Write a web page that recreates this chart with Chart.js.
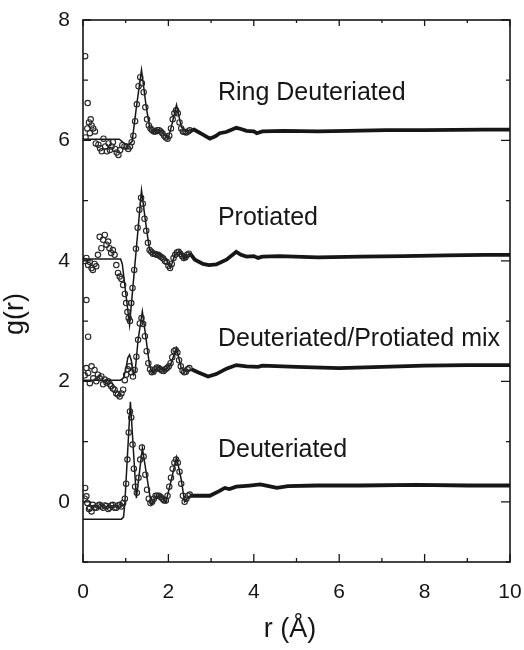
<!DOCTYPE html>
<html><head><meta charset="utf-8">
<script src="https://cdn.jsdelivr.net/npm/chart.js@4/dist/chart.umd.min.js"></script>
<style>html,body{margin:0;padding:0;background:#fff}</style>
</head><body>
<canvas id="c" width="524" height="650" style="display:block"></canvas>
<script>
// ---- tick labels ----
const xTickLabels = [0, 2, 4, 6, 8, 10];
const yTickLabels = [0, 2, 4, 6, 8];
const seriesNames = ['Ring Deuteriated', 'Protiated', 'Deuteriated/Protiated mix', 'Deuteriated'];

// ---- Ring Deuteriated: fit line ----
const ringFitR = [0, 0.85, 0.95, 1.05, 1.15, 1.25, 1.37, 1.48, 1.56, 1.64, 1.75, 1.83, 1.92, 1.99, 2.07, 2.19, 2.3, 2.4, 2.5, 2.6, 2.7, 2.8, 2.97, 3.1, 3.2, 3.35, 3.45, 3.59, 3.7, 3.83, 4.0, 4.07, 4.2, 4.7, 5.5, 6.2, 7.1, 8.0, 9.4, 10];
const ringFitG = [6.02, 6.02, 5.96, 5.92, 5.98, 6.55, 7.17, 6.56, 6.22, 6.15, 6.17, 6.16, 6.08, 6.03, 6.23, 6.59, 6.23, 6.15, 6.16, 6.18, 6.14, 6.1, 6.03, 6.07, 6.12, 6.14, 6.17, 6.21, 6.19, 6.16, 6.15, 6.12, 6.15, 6.16, 6.15, 6.16, 6.17, 6.17, 6.18, 6.18];
// ---- Ring Deuteriated: measured points ----
const ringPtR = [0.05, 0.11, 0.1, 0.14, 0.18, 0.2, 0.24, 0.16, 0.06, 0.28, 0.3, 0.36, 0.4, 0.44, 0.48, 0.52, 0.56, 0.6, 0.63, 0.67, 0.7, 0.75, 0.79, 0.83, 0.87, 0.92, 0.97, 1.02, 1.06, 1.1, 1.14, 1.18, 1.22, 1.26, 1.3, 1.34, 1.38, 1.42, 1.46, 1.5, 1.54, 1.58, 1.62, 1.66, 1.7, 1.74, 1.78, 1.82, 1.86, 1.9, 1.94, 1.98, 2.02, 2.06, 2.1, 2.14, 2.18, 2.22, 2.26, 2.3, 2.34, 2.38, 2.42, 2.46, 2.5];
const ringPtG = [7.4, 6.62, 6.2, 6.3, 6.35, 6.25, 6.2, 6.12, 6.05, 6.15, 5.95, 5.93, 5.87, 5.82, 6.03, 5.9, 5.82, 5.95, 5.84, 5.9, 5.97, 5.86, 5.8, 5.76, 5.84, 5.92, 5.9, 5.9, 5.86, 5.9, 5.97, 6.08, 6.32, 6.6, 6.9, 7.05, 6.95, 6.8, 6.55, 6.35, 6.25, 6.2, 6.17, 6.15, 6.15, 6.17, 6.17, 6.15, 6.12, 6.08, 6.05, 6.03, 6.08, 6.2, 6.35, 6.45, 6.5, 6.45, 6.3, 6.2, 6.15, 6.14, 6.13, 6.15, 6.17];

// ---- Protiated: fit line ----
const protFitR = [0, 0.88, 0.92, 1.09, 1.37, 1.48, 1.56, 1.64, 1.8, 1.95, 2.05, 2.15, 2.26, 2.38, 2.5, 2.62, 2.81, 2.95, 3.12, 3.36, 3.59, 3.7, 3.83, 4.0, 4.1, 4.2, 4.6, 5.5, 6.5, 7.5, 8.5, 9.4, 10];
const protFitG = [4.03, 4.03, 3.95, 2.94, 5.17, 4.57, 4.18, 4.13, 4.1, 4.02, 3.88, 4.1, 4.16, 4.04, 4.13, 4.02, 3.95, 3.93, 3.94, 4.02, 4.15, 4.1, 4.07, 4.08, 4.05, 4.07, 4.08, 4.06, 4.07, 4.08, 4.09, 4.1, 4.1];
// ---- Protiated: measured points ----
const protPtR = [0.08, 0.04, 0.08, 0.12, 0.16, 0.2, 0.23, 0.27, 0.31, 0.35, 0.39, 0.43, 0.47, 0.51, 0.55, 0.59, 0.62, 0.66, 0.7, 0.74, 0.78, 0.82, 0.86, 0.9, 0.94, 0.98, 1.01, 1.04, 1.07, 1.1, 1.13, 1.16, 1.2, 1.24, 1.28, 1.32, 1.36, 1.4, 1.44, 1.48, 1.52, 1.56, 1.6, 1.64, 1.68, 1.72, 1.76, 1.8, 1.84, 1.88, 1.92, 1.96, 2.0, 2.04, 2.08, 2.12, 2.16, 2.2, 2.24, 2.28, 2.32, 2.36, 2.4, 2.44, 2.48];
const protPtG = [3.35, 4.0, 4.05, 3.93, 3.98, 3.88, 3.85, 3.95, 3.91, 4.1, 4.4, 4.21, 4.35, 4.43, 4.27, 4.32, 4.21, 4.13, 4.18, 4.1, 3.93, 3.8, 3.74, 3.7, 3.6, 3.45, 3.3, 3.15, 3.05, 3.0, 3.3, 3.55, 3.85, 4.2, 4.55, 4.85, 5.05, 4.95, 4.7, 4.5, 4.3, 4.18, 4.15, 4.12, 4.12, 4.1, 4.1, 4.08, 4.06, 4.04, 4.0, 3.98, 3.92, 3.88, 3.95, 4.05, 4.1, 4.14, 4.15, 4.12, 4.08, 4.05, 4.06, 4.1, 4.12];

// ---- Deuteriated/Protiated mix: fit line ----
const mixFitR = [0, 0.88, 0.95, 1.0, 1.05, 1.09, 1.13, 1.19, 1.22, 1.29, 1.39, 1.48, 1.56, 1.64, 1.76, 1.91, 2.05, 2.19, 2.3, 2.42, 2.54, 2.69, 2.93, 3.12, 3.36, 3.59, 3.83, 4.1, 4.2, 5.0, 6.0, 7.0, 8.0, 9.0, 10];
const mixFitG = [2.02, 2.02, 2.06, 2.19, 2.39, 2.44, 2.35, 2.11, 2.15, 2.69, 3.16, 2.69, 2.25, 2.14, 2.24, 2.18, 2.28, 2.55, 2.22, 2.16, 2.2, 2.15, 2.08, 2.12, 2.21, 2.27, 2.25, 2.24, 2.26, 2.24, 2.22, 2.24, 2.26, 2.27, 2.27];
// ---- Deuteriated/Protiated mix: measured points ----
const mixPtR = [0.12, 0.04, 0.08, 0.12, 0.16, 0.2, 0.24, 0.27, 0.31, 0.35, 0.39, 0.43, 0.47, 0.51, 0.55, 0.59, 0.63, 0.66, 0.7, 0.74, 0.78, 0.82, 0.86, 0.9, 0.94, 0.98, 1.01, 1.05, 1.09, 1.13, 1.17, 1.21, 1.25, 1.29, 1.33, 1.37, 1.41, 1.45, 1.49, 1.53, 1.57, 1.61, 1.65, 1.69, 1.73, 1.77, 1.81, 1.85, 1.89, 1.93, 1.97, 2.01, 2.05, 2.09, 2.13, 2.17, 2.21, 2.25, 2.29, 2.33, 2.37, 2.41, 2.45, 2.49];
const mixPtG = [2.74, 2.1, 2.22, 2.14, 1.97, 2.25, 2.05, 2.19, 2.0, 2.11, 2.05, 2.08, 1.95, 2.03, 1.98, 2.0, 1.95, 1.92, 1.88, 1.86, 1.8, 1.78, 1.75, 1.8, 1.86, 2.02, 2.11, 2.2, 2.25, 2.15, 2.08, 2.19, 2.41, 2.69, 2.96, 3.05, 2.95, 2.75, 2.5, 2.3, 2.2, 2.15, 2.16, 2.2, 2.23, 2.22, 2.2, 2.18, 2.17, 2.2, 2.22, 2.25, 2.3, 2.4, 2.5, 2.52, 2.48, 2.35, 2.25, 2.18, 2.15, 2.16, 2.2, 2.22];

// ---- Deuteriated: fit line ----
const deutFitR = [0, 0.9, 0.95, 0.98, 1.11, 1.25, 1.39, 1.6, 1.72, 1.83, 1.94, 2.07, 2.19, 2.3, 2.38, 2.5, 2.73, 2.97, 3.2, 3.32, 3.43, 3.59, 3.9, 4.15, 4.35, 4.54, 4.8, 5.5, 6.5, 7.8, 9.0, 10];
const deutFitG = [-0.29, -0.29, -0.25, -0.02, 1.66, 0.06, 0.89, -0.05, 0.09, 0.1, -0.01, 0.37, 0.74, 0.37, 0.0, 0.1, 0.1, 0.1, 0.18, 0.23, 0.21, 0.25, 0.27, 0.29, 0.26, 0.23, 0.26, 0.27, 0.27, 0.28, 0.27, 0.27];
// ---- Deuteriated: measured points ----
const deutPtR = [0.05, 0.04, 0.08, 0.1, 0.14, 0.16, 0.2, 0.23, 0.27, 0.31, 0.35, 0.39, 0.43, 0.47, 0.51, 0.55, 0.59, 0.62, 0.66, 0.7, 0.74, 0.78, 0.82, 0.86, 0.9, 0.94, 0.98, 1.01, 1.04, 1.07, 1.1, 1.13, 1.16, 1.19, 1.22, 1.26, 1.3, 1.34, 1.38, 1.42, 1.46, 1.5, 1.54, 1.58, 1.62, 1.66, 1.7, 1.74, 1.78, 1.82, 1.86, 1.9, 1.94, 1.98, 2.02, 2.06, 2.1, 2.14, 2.18, 2.22, 2.26, 2.3, 2.34, 2.38, 2.42, 2.46, 2.5];
const deutPtG = [0.23, 0.05, 0.09, -0.02, -0.12, -0.1, -0.16, -0.05, -0.1, -0.1, -0.06, -0.05, -0.08, -0.1, -0.06, -0.07, -0.12, -0.1, -0.06, -0.05, -0.1, -0.1, -0.06, -0.05, -0.08, -0.02, 0.05, 0.3, 0.7, 1.15, 1.5, 1.4, 0.95, 0.55, 0.25, 0.15, 0.4, 0.7, 0.9, 0.75, 0.45, 0.2, 0.05, -0.02, 0.0, 0.05, 0.1, 0.1, 0.1, 0.08, 0.05, 0.02, 0.02, 0.1, 0.25, 0.4, 0.55, 0.65, 0.7, 0.65, 0.5, 0.3, 0.1, 0.0, 0.05, 0.1, 0.12];

// ---------- build datasets ----------
const INK = '#161616';
const FONT = "'Liberation Sans', Arial, Helvetica, sans-serif";
const zip = (rs, gs) => rs.map((r, i) => ({ x: r, y: gs[i] }));

function fitSet(name, rs, gs) {
  return {
    label: name + ' (fit)', data: zip(rs, gs), showLine: true, pointRadius: 0,
    borderColor: INK, borderWidth: 1.5, tension: 0,
    segment: { borderWidth: c => (c.p0.parsed.x >= 2.45 ? 3.8 : 1.5) }
  };
}
function pointSet(name, rs, gs) {
  return {
    label: name, data: zip(rs, gs), showLine: false, pointRadius: 2.7,
    pointBorderWidth: 1.1, pointBorderColor: '#262626', pointBackgroundColor: 'rgba(0,0,0,0)'
  };
}

const datasets = [
  pointSet(seriesNames[0], ringPtR, ringPtG), fitSet(seriesNames[0], ringFitR, ringFitG),
  pointSet(seriesNames[1], protPtR, protPtG), fitSet(seriesNames[1], protFitR, protFitG),
  pointSet(seriesNames[2], mixPtR, mixPtG), fitSet(seriesNames[2], mixFitR, mixFitG),
  pointSet(seriesNames[3], deutPtR, deutPtG), fitSet(seriesNames[3], deutFitR, deutFitG)
];

// annotation placement (data coordinates of text start / baseline)
const labelAnchorR = 3.16;
const labelAnchorG = [6.67, 4.6, 2.59, 0.75];

const framePlugin = {
  id: 'frame',
  beforeDraw(chart) {
    const ctx = chart.ctx;
    ctx.save(); ctx.fillStyle = '#fff'; ctx.fillRect(0, 0, chart.width, chart.height); ctx.restore();
  },
  afterDatasetsDraw(chart) {
    const { ctx, chartArea: a, scales: { x, y } } = chart;
    ctx.save();
    ctx.strokeStyle = INK; ctx.lineWidth = 1.6;
    ctx.strokeRect(a.left, a.top, a.right - a.left, a.bottom - a.top);
    ctx.lineWidth = 1.3;
    ctx.beginPath();
    x.ticks.forEach(t => {
      const p = x.getPixelForValue(t.value);
      const major = xTickLabels.includes(t.value);
      ctx.moveTo(p, a.bottom); ctx.lineTo(p, a.bottom - (major ? 8 : 4));
      ctx.moveTo(p, a.top); ctx.lineTo(p, a.top + (major ? 6 : 3));
    });
    y.ticks.forEach(t => {
      const p = y.getPixelForValue(t.value);
      const major = yTickLabels.includes(t.value);
      ctx.moveTo(a.left, p); ctx.lineTo(a.left + (major ? 8 : 5), p);
      ctx.moveTo(a.right, p); ctx.lineTo(a.right - (major ? 9 : 4), p);
    });
    ctx.stroke();
    // series annotations
    ctx.fillStyle = INK;
    ctx.font = '25px ' + FONT;
    ctx.textBaseline = 'alphabetic'; ctx.textAlign = 'left';
    seriesNames.forEach((n, i) => {
      ctx.fillText(n, x.getPixelForValue(labelAnchorR), y.getPixelForValue(labelAnchorG[i]));
    });
    // axis titles
    ctx.font = '27px ' + FONT;
    ctx.textAlign = 'center'; ctx.textBaseline = 'middle';
    ctx.fillText('r (Å)', 290, 630);
    ctx.save();
    ctx.translate(16, 314); ctx.rotate(-Math.PI / 2);
    ctx.fillText('g(r)', 0, 0);
    ctx.restore();
    ctx.restore();
  }
};

new Chart(document.getElementById('c'), {
  type: 'scatter',
  data: { datasets },
  options: {
    responsive: false, animation: false, devicePixelRatio: 1,
    layout: { padding: { left: 0, top: 20, right: 14, bottom: 0 } },
    plugins: { legend: { display: false }, tooltip: { enabled: false } },
    scales: {
      x: {
        type: 'linear', min: 0, max: 10,
        grid: { display: false, drawTicks: false }, border: { display: false },
        ticks: {
          stepSize: 1, autoSkip: false, maxRotation: 0, padding: 18, color: INK,
          font: { family: FONT, size: 21 },
          callback: v => (xTickLabels.includes(v) ? String(v) : '')
        },
        afterFit: s => { s.height = 88; s.paddingLeft = 0; s.paddingRight = 0; }
      },
      y: {
        type: 'linear', min: -1, max: 8,
        grid: { display: false, drawTicks: false }, border: { display: false },
        ticks: {
          stepSize: 1, autoSkip: false, padding: 13, color: INK,
          font: { family: FONT, size: 21 },
          callback: v => (yTickLabels.includes(v) ? String(v) : '')
        },
        afterFit: s => { s.width = 83; s.paddingTop = 0; s.paddingBottom = 0; }
      }
    }
  },
  plugins: [framePlugin]
});
</script>
</body></html>
